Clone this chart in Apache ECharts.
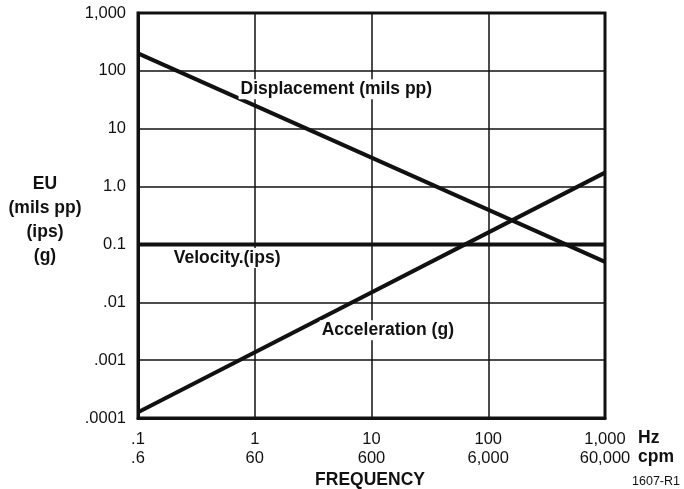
<!DOCTYPE html>
<html>
<head>
<meta charset="utf-8">
<script src="https://cdn.jsdelivr.net/npm/echarts@6/dist/echarts.min.js"></script>
<style>
html,body{margin:0;padding:0;background:#fff;}
#chart{width:684px;height:489px;}
</style>
</head>
<body>
<div id="chart"></div>
<script>
// ---- data ----
const freqHz = [0.1, 1000];
const displacement = [200, 0.05];
const velocity = [0.1, 0.1];
const acceleration = [0.000126, 1.74];

const xTickHz = ['.1', '1', '10', '100', '1,000'];
const xTickCpm = ['.6', '60', '600', '6,000', '60,000'];
const yTicks = ['.0001', '.001', '.01', '0.1', '1.0', '10', '100', '1,000'];

const seriesNames = ['Displacement (mils pp)', 'Velocity.(ips)', 'Acceleration (g)'];
// label anchor positions in data space [Hz, EU]
const labelAnchors = [[5.0, 48], [0.58, 0.058], [13.8, 0.0033]];

const FONT = '"Liberation Sans", Arial, Helvetica, sans-serif';
const INK = '#111';

const chart = echarts.init(document.getElementById('chart'), null, {renderer: 'canvas'});

function pairs(xs, ys) { return xs.map((x, i) => [x, ys[i]]); }

function mkSeries(name, data, width, anchor) {
  return {
    name: name,
    type: 'line',
    data: pairs(freqHz, data),
    symbol: 'none',
    lineStyle: {color: INK, width: width},
    silent: true,
    z: 3,
    markPoint: {
      symbol: 'circle',
      symbolSize: 0,
      silent: true,
      data: [{coord: anchor}],
      label: {
        show: true,
        position: 'inside',
        formatter: name,
        color: INK,
        fontFamily: FONT,
        fontWeight: 'bold',
        fontSize: 17.5,
        backgroundColor: '#fff',
        padding: [1, 2]
      }
    }
  };
}

const option = {
  backgroundColor: '#fff',
  animation: false,
  grid: {
    left: 138, right: 79, top: 13, bottom: 71,
    show: true, borderColor: INK, borderWidth: 3, backgroundColor: 'transparent'
  },
  xAxis: {
    type: 'log', logBase: 10, min: 0.1, max: 1000,
    axisLine: {show: true, lineStyle: {color: INK, width: 3}},
    axisTick: {show: false},
    splitLine: {show: true, lineStyle: {color: INK, width: 1.5}},
    axisLabel: {
      margin: 12,
      color: INK, fontFamily: FONT, fontSize: 16.5, lineHeight: 19,
      formatter: function (v) {
        const i = Math.round(Math.log10(v)) + 1;
        return xTickHz[i] + '\n' + xTickCpm[i];
      }
    }
  },
  yAxis: {
    type: 'log', logBase: 10, min: 0.0001, max: 1000,
    axisLine: {show: true, lineStyle: {color: INK, width: 3}},
    axisTick: {show: false},
    splitLine: {show: true, lineStyle: {color: INK, width: 1.5}},
    axisLabel: {
      margin: 12,
      color: INK, fontFamily: FONT, fontSize: 16.5,
      formatter: function (v) {
        const i = Math.round(Math.log10(v)) + 4;
        return yTicks[i];
      }
    }
  },
  series: [
    mkSeries(seriesNames[0], displacement, 4, labelAnchors[0]),
    mkSeries(seriesNames[1], velocity, 4, labelAnchors[1]),
    mkSeries(seriesNames[2], acceleration, 4, labelAnchors[2])
  ],
  graphic: [
    {type: 'text', x: 638, y: 429, style: {text: 'Hz', font: 'bold 17.5px ' + FONT, fill: INK}},
    {type: 'text', x: 638, y: 448, style: {text: 'cpm', font: 'bold 17.5px ' + FONT, fill: INK}},
    {type: 'text', x: 370, y: 471, style: {text: 'FREQUENCY', font: 'bold 17.5px ' + FONT, fill: INK, align: 'center'}},
    {type: 'text', x: 680, y: 475, style: {text: '1607-R1', font: '12.5px ' + FONT, fill: INK, align: 'right'}},
    {type: 'text', x: 45, y: 172, style: {
      text: 'EU\n(mils pp)\n(ips)\n(g)', font: 'bold 17.5px ' + FONT, fill: INK,
      align: 'center', verticalAlign: 'top', lineHeight: 24
    }}
  ]
};
chart.setOption(option);
</script>
</body>
</html>
